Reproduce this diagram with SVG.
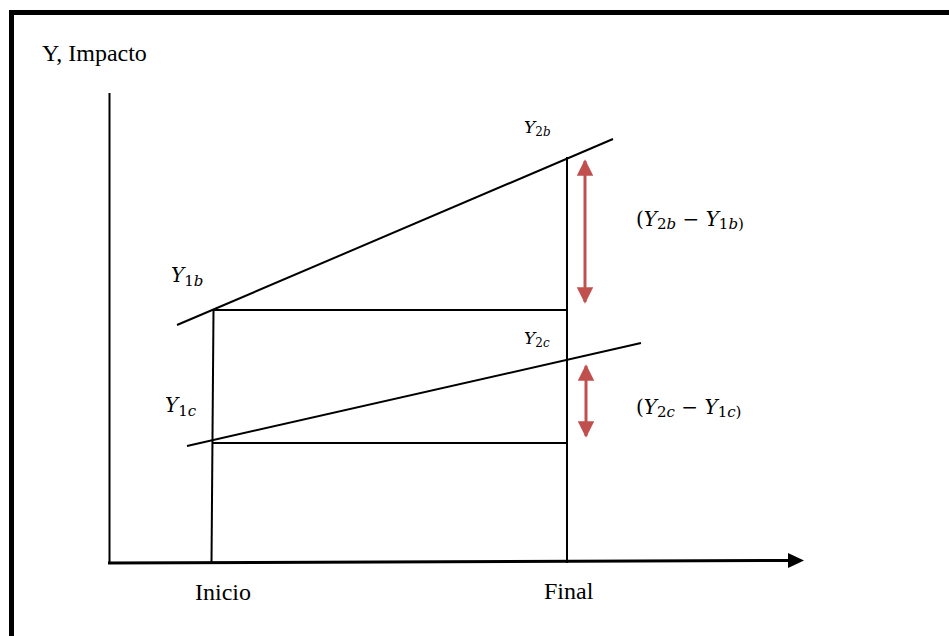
<svg xmlns="http://www.w3.org/2000/svg" width="949" height="636" viewBox="0 0 949 636">
<style>
.ln{stroke:#000;stroke-width:2;fill:none}
.ax{stroke:#000;stroke-width:3;fill:none}
.red{stroke:#c0504d;stroke-width:3;fill:none}
.t{font-family:"Liberation Serif",serif;fill:#000}
.m{font-family:"DejaVu Serif","Liberation Serif",serif;font-style:italic;fill:#000}
.u{font-style:normal}
</style>
<defs>
<marker id="ra" viewBox="0 0 10 10" refX="9" refY="5" markerWidth="5.5" markerHeight="5.5" orient="auto-start-reverse" markerUnits="strokeWidth"><path d="M0,0 L10,5 L0,10 z" fill="#c0504d"/></marker>
<marker id="ba" viewBox="0 0 16 15" refX="1" refY="7.5" markerWidth="16" markerHeight="15" orient="auto" markerUnits="userSpaceOnUse"><path d="M0,0 L16,7.5 L0,15 z" fill="#000"/></marker>
</defs>
<rect x="11.5" y="12.5" width="960" height="660" fill="none" stroke="#000" stroke-width="5"/>
<g id="axes">
<line class="ln" x1="109.5" y1="93" x2="109.5" y2="563"/>
<line class="ax" x1="108" y1="563" x2="789" y2="560.5" marker-end="url(#ba)"/>
</g>
<g id="connectors">
<line class="ln" x1="177" y1="325" x2="613" y2="139"/>
<line class="ln" x1="187" y1="446" x2="641" y2="343"/>
<line class="ln" x1="213.5" y1="310" x2="211.5" y2="563"/>
<line class="ln" x1="567" y1="157" x2="567" y2="563"/>
<line class="ln" x1="213" y1="310" x2="567" y2="310"/>
<line class="ln" x1="212" y1="443" x2="567" y2="443"/>
<line class="red" x1="585" y1="161" x2="585" y2="302" marker-start="url(#ra)" marker-end="url(#ra)"/>
<line class="red" x1="586" y1="366" x2="586" y2="436" marker-start="url(#ra)" marker-end="url(#ra)"/>
</g>
<g id="labels">
<text class="t" x="42" y="61" font-size="24">Y, Impacto</text>
<text class="t" x="195" y="600" font-size="24">Inicio</text>
<text class="t" x="544" y="599" font-size="24">Final</text>
</g>
<g id="y2b"><text class="m" x="524" y="133" font-size="17">Y<tspan font-size="12" dy="3"><tspan class="u">2</tspan>b</tspan></text></g>
<g id="y1b"><text class="m" x="171" y="282" font-size="20">Y<tspan font-size="15" dy="4"><tspan class="u">1</tspan>b</tspan></text></g>
<g id="y2c"><text class="m" x="524" y="344" font-size="17">Y<tspan font-size="12" dy="3"><tspan class="u">2</tspan>c</tspan></text></g>
<g id="y1c"><text class="m" x="165" y="412" font-size="20">Y<tspan font-size="15" dy="4"><tspan class="u">1</tspan>c</tspan></text></g>
<g id="diffb"><text class="m" x="636" y="226" font-size="20"><tspan class="u">(</tspan>Y<tspan font-size="15" dy="3"><tspan class="u">2</tspan>b</tspan><tspan class="u" dy="-3"> −  </tspan>Y<tspan font-size="15" dy="3"><tspan class="u">1</tspan>b<tspan class="u">)</tspan></tspan></text></g>
<g id="diffc"><text class="m" x="636" y="414" font-size="20"><tspan class="u">(</tspan>Y<tspan font-size="15" dy="3"><tspan class="u">2</tspan>c</tspan><tspan class="u" dy="-3"> −  </tspan>Y<tspan font-size="15" dy="3"><tspan class="u">1</tspan>c<tspan class="u">)</tspan></tspan></text></g>
</svg>
